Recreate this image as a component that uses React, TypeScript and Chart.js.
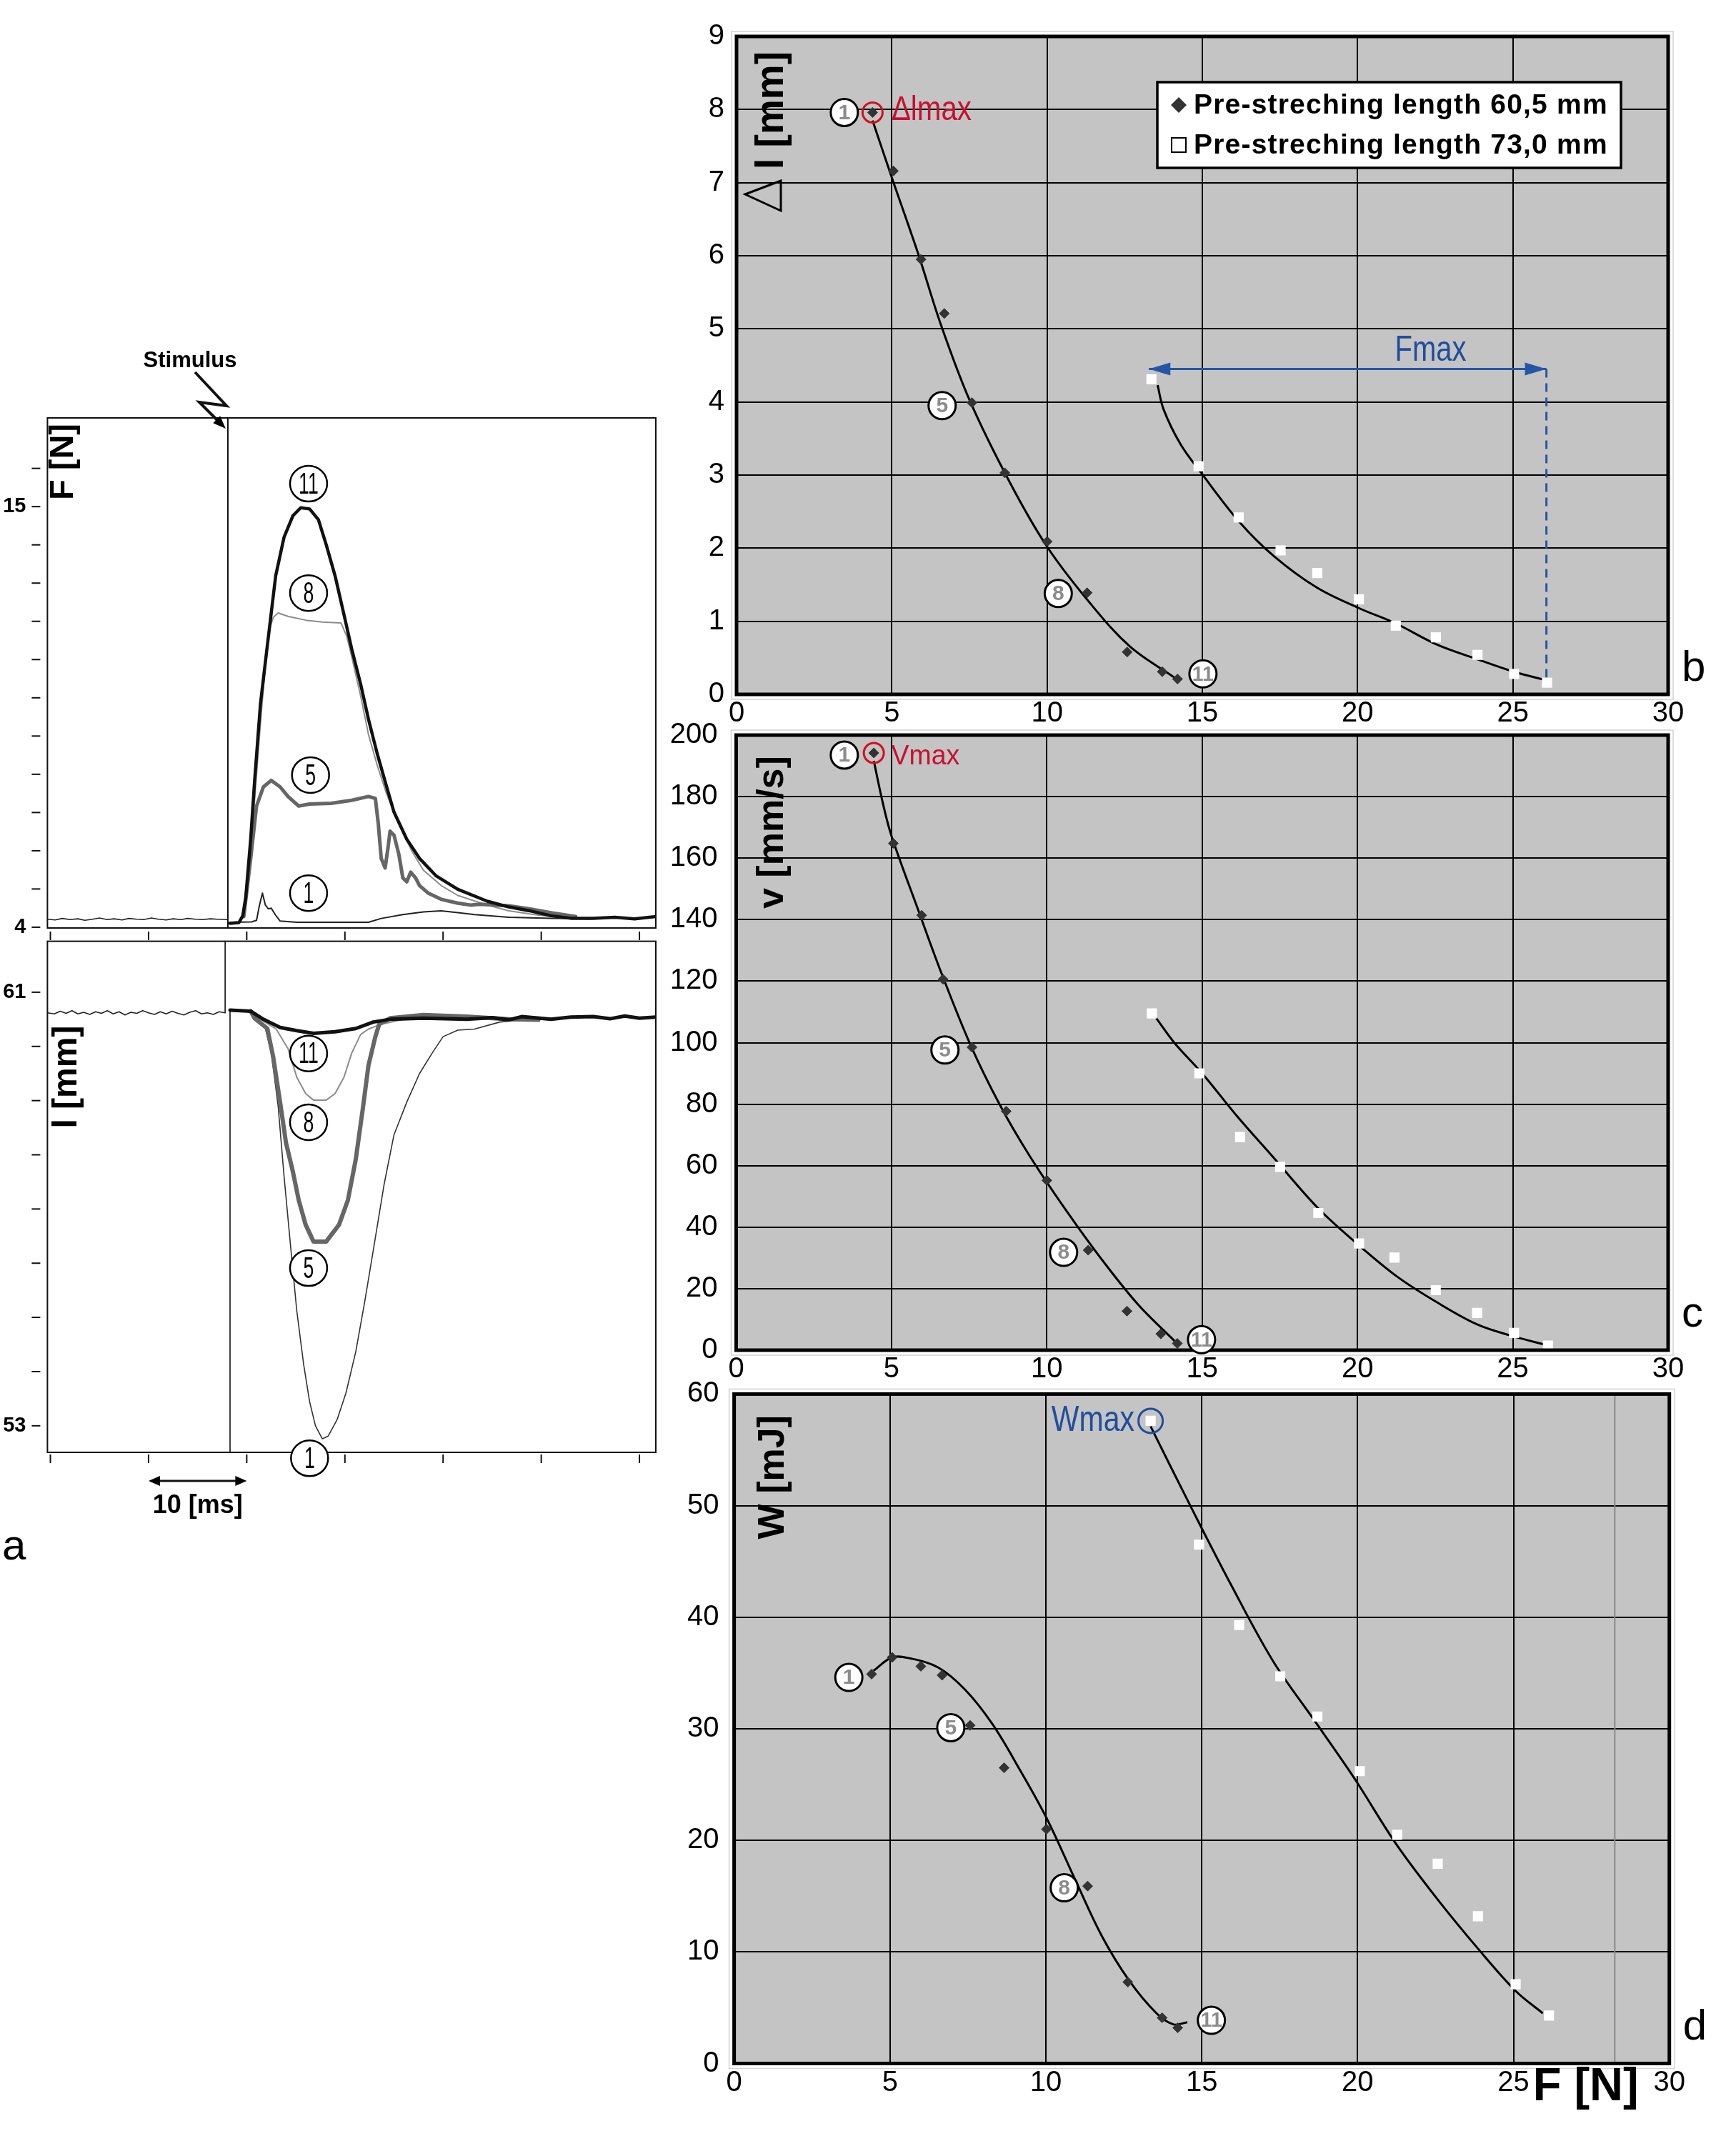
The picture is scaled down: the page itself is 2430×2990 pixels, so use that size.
import React, { useEffect, useRef } from 'react';
import { Chart, registerables } from 'chart.js';

Chart.register(...registerables);

const SANS = '"Liberation Sans", Arial, Helvetica, sans-serif';

// ---------- panel a: force and length traces, time in ms ----------
const timeTicks = [0, 10, 20, 30, 40, 50, 60];
const forceTicks = [4, 5, 6, 7, 8, 9, 10, 11, 12, 13, 14, 15, 16];
const forceTickLabels = [15, 4];
const lengthTicks = [53, 54, 55, 56, 57, 58, 59, 60, 61];
const lengthTickLabels = [61, 53];
const stimulusForceT = 18.08;
const stimulusLenT = [17.8, 18.3];

const forceBaseT = [-0.3, 0.5, 1.2, 2, 2.8, 3.5, 4.3, 5, 5.8, 6.5, 7.3, 8, 8.8, 9.5, 10.3, 11, 11.8, 12.5, 13.3, 14, 14.8, 15.5, 16.3, 17, 18.0];
const forceBaseF = [4.21, 4.19, 4.23, 4.2, 4.22, 4.18, 4.21, 4.24, 4.2, 4.22, 4.19, 4.23, 4.21, 4.2, 4.24, 4.21, 4.19, 4.22, 4.2, 4.23, 4.21, 4.2, 4.22, 4.21, 4.2];

const force11T = [18.3, 19.2, 19.6, 19.9, 20.4, 20.8, 21.4, 22.1, 22.95, 23.8, 24.7, 25.5, 26.4, 27.3, 28.1, 29.0, 29.9, 30.7, 31.6, 32.4, 33.3, 34.2, 35.0, 36.3, 37.6, 39.3, 41.5, 44.5, 46.7, 48.8, 51.0, 53.1, 55.3, 57.5, 59.5, 61.7];
const force11F = [4.1, 4.12, 4.3, 4.78, 6.3, 7.82, 9.85, 11.37, 13.19, 14.2, 14.76, 14.97, 14.94, 14.66, 14.0, 13.19, 12.18, 11.27, 10.36, 9.44, 8.53, 7.72, 7.01, 6.3, 5.8, 5.34, 4.99, 4.68, 4.53, 4.43, 4.3, 4.23, 4.23, 4.26, 4.22, 4.28];

const force8T = [19.6, 20.1, 20.8, 21.4, 21.9, 22.3, 22.7, 23.2, 24.2, 26.0, 27.7, 29.6, 30.2, 30.7, 31.6, 32.4, 33.3, 34.2, 35.5, 36.8, 38.0, 39.8, 41.5, 44.5, 46.7, 49.3, 52, 55];
const force8F = [4.28, 5.29, 7.32, 9.34, 10.86, 11.78, 12.1, 12.22, 12.13, 12.03, 11.98, 11.96, 11.6, 11.07, 10.05, 9.04, 8.23, 7.52, 6.71, 6.0, 5.49, 5.09, 4.83, 4.58, 4.43, 4.33, 4.25, 4.22];

const force5T = [19.7, 20.4, 21.0, 21.7, 22.5, 23.4, 24.2, 25.3, 26.4, 28.6, 30.7, 32.4, 33.1, 33.4, 33.7, 34.1, 34.4, 34.6, 35.0, 35.5, 35.9, 36.3, 36.7, 37.2, 37.6, 38.5, 39.8, 41.5, 42.8, 43.7, 46.7, 48.8, 51.0, 53.5];
const force5F = [4.28, 5.8, 7.17, 7.67, 7.84, 7.67, 7.42, 7.17, 7.22, 7.24, 7.32, 7.42, 7.37, 6.71, 5.8, 5.55, 6.1, 6.51, 6.41, 5.9, 5.29, 5.19, 5.44, 5.29, 5.09, 4.89, 4.73, 4.63, 4.58, 4.6, 4.56, 4.48, 4.38, 4.28];

const force1T = [18.3, 20.5, 21.0, 21.3, 21.6, 21.9, 22.2, 22.5, 22.9, 23.4, 25.1, 32.4, 33.7, 35.9, 38.0, 39.8, 41.5, 43.2, 46.7, 51.0, 55];
const force1F = [4.13, 4.14, 4.18, 4.58, 4.89, 4.58, 4.48, 4.5, 4.33, 4.16, 4.13, 4.13, 4.23, 4.33, 4.4, 4.43, 4.38, 4.33, 4.26, 4.23, 4.22];

const lenBaseT = [-0.3, 0.4, 1, 1.6, 2.2, 2.8, 3.4, 4, 4.6, 5.2, 5.8, 6.4, 7, 7.6, 8.2, 8.8, 9.4, 10, 10.6, 11.2, 11.8, 12.4, 13, 13.6, 14.2, 14.8, 15.4, 16, 16.6, 17.2, 17.8];
const lenBaseL = [60.62, 60.6, 60.65, 60.61, 60.66, 60.6, 60.63, 60.59, 60.64, 60.61, 60.66, 60.6, 60.64, 60.58, 60.63, 60.61, 60.66, 60.62, 60.59, 60.64, 60.6, 60.65, 60.61, 60.58, 60.63, 60.66, 60.6, 60.62, 60.59, 60.64, 60.62];

const len11T = [18.3, 20.4, 21.7, 23.4, 25.1, 26.8, 29.0, 31.1, 32.9, 34.6, 38.0, 42.4, 45, 46.7, 48, 51.0, 53, 55.3, 57, 58.5, 60, 61.7];
const len11L = [60.67, 60.65, 60.5, 60.35, 60.29, 60.24, 60.27, 60.33, 60.45, 60.5, 60.52, 60.5, 60.53, 60.49, 60.55, 60.5, 60.54, 60.55, 60.51, 60.56, 60.52, 60.54];

const len8T = [20.4, 21.2, 23.0, 24.2, 25.1, 26.0, 26.8, 28.1, 29.0, 29.9, 30.7, 31.6, 32.4, 33.7, 36];
const len8L = [60.65, 60.52, 60.32, 59.96, 59.43, 59.13, 59.01, 59.01, 59.13, 59.43, 59.88, 60.22, 60.32, 60.41, 60.5];

const len5T = [20.4, 20.8, 22.1, 22.7, 23.4, 24.0, 24.7, 25.3, 26.0, 26.8, 28.1, 29.4, 30.3, 31.1, 31.8, 32.4, 33.1, 33.5, 34.6, 38.0, 42.4, 46.7, 49.7];
const len5L = [60.65, 60.52, 60.33, 59.8, 58.97, 58.22, 57.69, 57.16, 56.71, 56.4, 56.4, 56.71, 57.16, 57.91, 58.82, 59.65, 60.18, 60.41, 60.52, 60.58, 60.55, 60.5, 60.49];

const len1T = [20.4, 20.8, 21.9, 22.5, 23.2, 23.8, 24.5, 25.1, 25.8, 26.4, 27.0, 27.7, 28.3, 29.2, 30.1, 31.1, 32.0, 32.9, 34.0, 35.0, 36.3, 37.6, 38.9, 40.0, 41.5, 43.2, 45.8, 48.0, 50.1];
const len1L = [60.65, 60.52, 60.33, 59.88, 58.9, 57.61, 56.25, 55.12, 54.13, 53.45, 53.0, 52.76, 52.81, 53.11, 53.6, 54.36, 55.27, 56.25, 57.46, 58.37, 58.97, 59.5, 59.88, 60.18, 60.3, 60.32, 60.45, 60.49, 60.5];

const forceTags = [
  { t: 26.3, v: 15.6, s: '11' },
  { t: 26.3, v: 12.74, s: '8' },
  { t: 26.5, v: 7.98, s: '5' },
  { t: 26.3, v: 4.89, s: '1' },
];
const lengthTags = [
  { t: 26.3, v: 59.87, s: '11' },
  { t: 26.3, v: 58.6, s: '8' },
  { t: 26.3, v: 55.91, s: '5' },
  { t: 26.4, v: 52.4, s: '1' },
];

// ---------- panels b, c, d: against F [N] ----------
const seriesLabels = ['Pre-streching length 60,5 mm', 'Pre-streching length 73,0 mm'];
const pointTagText = ['1', '5', '8', '11'];

const bDiamondX = [4.38, 5.05, 5.94, 6.69, 7.58, 8.64, 10.0, 11.29, 12.58, 13.71, 14.2];
const bDiamondY = [7.96, 7.16, 5.95, 5.21, 3.99, 3.03, 2.09, 1.39, 0.58, 0.31, 0.21];
const bSquareX = [13.36, 14.88, 16.17, 17.52, 18.7, 20.04, 21.23, 22.52, 23.86, 25.04, 26.1];
const bSquareY = [4.31, 3.12, 2.42, 1.97, 1.66, 1.3, 0.94, 0.78, 0.54, 0.28, 0.16];
const bCurve1X = [4.38, 5.0, 5.87, 6.57, 7.51, 8.8, 10.0, 11.38, 12.68, 14.14];
const bCurve1Y = [7.85, 7.07, 6.0, 5.07, 4.02, 2.9, 2.02, 1.25, 0.65, 0.22];
const bCurve2X = [13.56, 13.75, 14.3, 14.98, 16.17, 17.28, 18.69, 20.04, 21.23, 22.56, 23.86, 25.03, 26.1];
const bCurve2Y = [4.23, 3.9, 3.42, 3.02, 2.37, 1.9, 1.46, 1.18, 0.97, 0.68, 0.48, 0.31, 0.19];
const bTagX = [3.47, 6.62, 10.36, 15.02];
const bTagY = [7.96, 3.95, 1.38, 0.28];
const fmaxArrowX = [13.28, 26.08];
const fmaxArrowY = [4.45, 4.45];
const fmaxDropX = [26.08, 26.08];
const fmaxDropY = [4.45, 0.16];

const cDiamondX = [4.43, 5.06, 5.97, 6.66, 7.59, 8.69, 10.0, 11.33, 12.58, 13.67, 14.2];
const cDiamondY = [194.2, 164.8, 141.4, 120.6, 98.5, 77.7, 55.2, 32.5, 12.7, 5.3, 2.2];
const cSquareX = [13.38, 14.91, 16.22, 17.51, 18.74, 20.05, 21.19, 22.52, 23.85, 25.04, 26.13];
const cSquareY = [109.5, 90.0, 69.3, 59.6, 44.6, 34.7, 30.1, 19.5, 12.1, 5.6, 1.5];
const cCurve1X = [4.43, 4.73, 5.0, 5.9, 6.6, 7.55, 8.48, 9.42, 10.59, 11.76, 12.94, 14.11];
const cCurve1Y = [191.6, 177.5, 167.2, 142, 122.8, 99.1, 79.9, 63.6, 45.9, 29.6, 14.8, 3.0];
const cCurve2X = [13.52, 14.11, 15.0, 16.13, 17.3, 18.71, 20.0, 21.28, 22.57, 23.85, 25.02, 26.08];
const cCurve2Y = [108, 99.9, 90, 76, 62.6, 46.4, 34.5, 23.9, 15.5, 8.4, 4.5, 1.7];
const cTagX = [3.48, 6.72, 10.54, 14.98];
const cTagY = [193.5, 97.6, 31.8, 3.4];

const dDiamondX = [4.41, 5.07, 5.99, 6.67, 7.57, 8.66, 10.02, 11.34, 12.63, 13.73, 14.23];
const dDiamondY = [34.9, 36.4, 35.6, 34.8, 30.3, 26.5, 21.0, 15.9, 7.3, 4.1, 3.2];
const dSquareX = [13.36, 14.91, 16.2, 17.52, 18.71, 20.07, 21.27, 22.57, 23.86, 25.07, 26.14];
const dSquareY = [57.6, 46.5, 39.3, 34.7, 31.1, 26.2, 20.5, 17.9, 13.2, 7.1, 4.3];
const dCurve1X = [4.47, 5.07, 5.66, 6.54, 7.41, 8.29, 9.17, 10.04, 10.92, 11.8, 12.68, 13.55, 14.1, 14.54];
const dCurve1Y = [35.2, 36.4, 36.3, 35.5, 33.5, 30.4, 26.3, 21.9, 16.6, 11.4, 7.4, 4.5, 3.5, 3.7];
const dCurve2X = [13.36, 14.65, 15.96, 17.28, 18.6, 19.91, 21.23, 22.54, 23.86, 25.07, 25.94];
const dCurve2Y = [57.1, 49.9, 42.8, 36.1, 30.8, 25.5, 19.7, 14.8, 10.3, 6.5, 4.5];
const dTagX = [3.68, 6.95, 10.59, 15.31];
const dTagY = [34.6, 30.1, 15.75, 3.87];
const dRuleX = [28.25, 28.25];
const dRuleY = [0, 60];

const pts = (xs: number[], ys: number[]) => xs.map((x, i) => ({ x, y: ys[i] }));

const trace = (xs: number[], ys: number[], color: string, width: number) => ({
  data: pts(xs, ys),
  showLine: true,
  borderColor: color,
  borderWidth: width,
  pointRadius: 0,
  tension: 0,
  borderJoinStyle: 'round',
  borderCapStyle: 'round',
});

const curve = (xs: number[], ys: number[]) => ({
  data: pts(xs, ys),
  showLine: true,
  borderColor: '#000',
  borderWidth: 3,
  pointRadius: 0,
  tension: 0.35,
});

const diamonds = (xs: number[], ys: number[]) => ({
  label: seriesLabels[0],
  data: pts(xs, ys),
  pointStyle: 'rectRot',
  pointRadius: 7,
  backgroundColor: '#333',
  borderColor: '#333',
  borderWidth: 1,
});

const squares = (xs: number[], ys: number[]) => ({
  label: seriesLabels[1],
  data: pts(xs, ys),
  pointStyle: 'rect',
  pointRadius: 10,
  backgroundColor: '#fff',
  borderColor: '#fff',
  borderWidth: 0,
});

function seg(ctx: CanvasRenderingContext2D, x1: number, y1: number, x2: number, y2: number) {
  ctx.beginPath();
  ctx.moveTo(x1, y1);
  ctx.lineTo(x2, y2);
  ctx.stroke();
}

function arrowTo(ctx: CanvasRenderingContext2D, fx: number, fy: number, tx: number, ty: number, len: number, half: number) {
  const d = Math.hypot(tx - fx, ty - fy) || 1;
  const ux = (tx - fx) / d, uy = (ty - fy) / d;
  ctx.beginPath();
  ctx.moveTo(tx, ty);
  ctx.lineTo(tx - ux * len - uy * half, ty - uy * len + ux * half);
  ctx.lineTo(tx - ux * len + uy * half, ty - uy * len - ux * half);
  ctx.closePath();
  ctx.fill();
}

function rotText(ctx: CanvasRenderingContext2D, text: string, cx: number, startY: number, font: string) {
  ctx.save();
  ctx.translate(cx, startY);
  ctx.rotate(-Math.PI / 2);
  ctx.font = font;
  ctx.fillStyle = '#000';
  ctx.textAlign = 'left';
  ctx.textBaseline = 'middle';
  ctx.fillText(text, 0, 0);
  ctx.restore();
}

function traceTag(ctx: CanvasRenderingContext2D, x: number, y: number, s: string) {
  ctx.beginPath();
  ctx.ellipse(x, y, 26, 25, 0, 0, Math.PI * 2);
  ctx.fillStyle = '#fff';
  ctx.fill();
  ctx.lineWidth = 2.5;
  ctx.strokeStyle = '#000';
  ctx.stroke();
  ctx.save();
  ctx.translate(x, y + 2);
  ctx.scale(0.62, 1);
  ctx.font = '43px ' + SANS;
  ctx.fillStyle = '#000';
  ctx.textAlign = 'center';
  ctx.textBaseline = 'middle';
  ctx.fillText(s, 0, 0);
  ctx.restore();
}

function pointTag(ctx: CanvasRenderingContext2D, x: number, y: number, s: string) {
  ctx.beginPath();
  ctx.arc(x, y, 19, 0, Math.PI * 2);
  ctx.fillStyle = '#fff';
  ctx.fill();
  ctx.lineWidth = 3;
  ctx.strokeStyle = '#000';
  ctx.stroke();
  ctx.font = 'bold 30px ' + SANS;
  ctx.fillStyle = '#8c8c8c';
  ctx.textAlign = 'center';
  ctx.textBaseline = 'middle';
  ctx.fillText(s, x, y + 1, 30);
}

function markLabel(ctx: CanvasRenderingContext2D, text: string, x: number, y: number, size: number, color: string, sx: number) {
  ctx.save();
  ctx.translate(x, y);
  ctx.scale(sx, 1);
  ctx.font = size + 'px ' + SANS;
  ctx.fillStyle = color;
  ctx.textAlign = 'left';
  ctx.textBaseline = 'alphabetic';
  ctx.fillText(text, 0, 0);
  ctx.restore();
}

function ring(ctx: CanvasRenderingContext2D, x: number, y: number, r: number, color: string) {
  ctx.beginPath();
  ctx.arc(x, y, r, 0, Math.PI * 2);
  ctx.lineWidth = 3;
  ctx.strokeStyle = color;
  ctx.stroke();
}

// ---------- panel a plugins ----------
const forceDecor = {
  id: 'forceDecor',
  afterDraw(chart: any) {
    const { ctx, chartArea: a } = chart;
    const xs = chart.scales.x, ys = chart.scales.y;
    ctx.save();
    ctx.strokeStyle = '#111';
    ctx.lineWidth = 2;
    ctx.strokeRect(a.left, a.top, a.right - a.left, a.bottom - a.top);
    const sx = xs.getPixelForValue(stimulusForceT);
    seg(ctx, sx, a.top, sx, a.bottom);
    forceTicks.forEach((v) => {
      const y = ys.getPixelForValue(v);
      seg(ctx, a.left - 22, y, a.left - 10, y);
    });
    timeTicks.forEach((t) => {
      const x = xs.getPixelForValue(t);
      seg(ctx, x, a.bottom + 5, x, a.bottom + 17);
    });
    ctx.fillStyle = '#000';
    ctx.font = 'bold 29px ' + SANS;
    ctx.textAlign = 'right';
    ctx.textBaseline = 'middle';
    forceTickLabels.forEach((v) => ctx.fillText(String(v), a.left - 30, ys.getPixelForValue(v)));
    rotText(ctx, 'F [N]', a.left + 23, a.top + 115, 'bold 47px ' + SANS);

    ctx.fillStyle = '#000';
    ctx.font = 'bold 31px ' + SANS;
    ctx.textAlign = 'center';
    ctx.textBaseline = 'middle';
    ctx.fillText('Stimulus', sx - 53, a.top - 80);
    ctx.lineWidth = 4;
    ctx.lineJoin = 'miter';
    ctx.beginPath();
    ctx.moveTo(sx - 46, a.top - 64);
    ctx.lineTo(sx - 2, a.top - 17);
    ctx.lineTo(sx - 40, a.top - 22);
    ctx.lineTo(sx - 12, a.top + 6);
    ctx.stroke();
    arrowTo(ctx, sx - 40, a.top - 22, sx - 3, a.top + 15, 18, 7);

    forceTags.forEach((g) => traceTag(ctx, xs.getPixelForValue(g.t), ys.getPixelForValue(g.v), g.s));
    ctx.restore();
  },
};

const lengthDecor = {
  id: 'lengthDecor',
  afterDraw(chart: any) {
    const { ctx, chartArea: a } = chart;
    const xs = chart.scales.x, ys = chart.scales.y;
    ctx.save();
    ctx.strokeStyle = '#111';
    ctx.lineWidth = 2;
    ctx.strokeRect(a.left, a.top, a.right - a.left, a.bottom - a.top);
    const s1 = xs.getPixelForValue(stimulusLenT[0]);
    const s2 = xs.getPixelForValue(stimulusLenT[1]);
    ctx.lineWidth = 1.6;
    seg(ctx, s1, a.top, s1, ys.getPixelForValue(lenBaseL[lenBaseL.length - 1]));
    seg(ctx, s2, ys.getPixelForValue(len11L[0]), s2, a.bottom);
    ctx.lineWidth = 2;
    lengthTicks.forEach((v) => {
      const y = ys.getPixelForValue(v);
      seg(ctx, a.left - 22, y, a.left - 10, y);
    });
    timeTicks.forEach((t) => {
      const x = xs.getPixelForValue(t);
      seg(ctx, x, a.bottom + 3, x, a.bottom + 15);
    });
    ctx.fillStyle = '#000';
    ctx.font = 'bold 29px ' + SANS;
    ctx.textAlign = 'right';
    ctx.textBaseline = 'middle';
    lengthTickLabels.forEach((v) => ctx.fillText(String(v), a.left - 30, ys.getPixelForValue(v)));
    rotText(ctx, 'l [mm]', a.left + 27, a.top + 262, 'bold 48px ' + SANS);

    // 10 ms scale bar
    const x10 = xs.getPixelForValue(timeTicks[1]);
    const x20 = xs.getPixelForValue(timeTicks[2]);
    const yb = a.bottom + 40;
    ctx.lineWidth = 3;
    seg(ctx, x10 + 10, yb, x20 - 10, yb);
    ctx.fillStyle = '#000';
    arrowTo(ctx, x20 - 20, yb, x10, yb, 16, 7);
    arrowTo(ctx, x10 + 20, yb, x20, yb, 16, 7);
    ctx.font = 'bold 36px ' + SANS;
    ctx.textAlign = 'center';
    ctx.textBaseline = 'middle';
    ctx.fillText('10 [ms]', (x10 + x20) / 2, a.bottom + 75);

    ctx.font = '60px ' + SANS;
    ctx.textAlign = 'left';
    ctx.textBaseline = 'alphabetic';
    ctx.fillText('a', 3, a.bottom + 150);

    lengthTags.forEach((g) => traceTag(ctx, xs.getPixelForValue(g.t), ys.getPixelForValue(g.v), g.s));
    ctx.restore();
  },
};

const forceConfig = () => ({
  type: 'scatter',
  data: {
    datasets: [
      trace(force11T, force11F, '#111', 4.5),
      trace(force5T, force5F, '#666', 5),
      trace(force8T, force8F, '#8c8c8c', 2),
      trace(force1T, force1F, '#222', 2),
      trace(forceBaseT, forceBaseF, '#222', 1.6),
    ],
  },
  options: {
    animation: false,
    responsive: true,
    maintainAspectRatio: false,
    layout: { padding: { left: 66.4, top: 115, right: 12, bottom: 21 } },
    plugins: { legend: { display: false }, tooltip: { enabled: false } },
    scales: {
      x: { type: 'linear', display: false, min: -0.3, max: 61.67 },
      y: { type: 'linear', display: false, min: 3.98, max: 17.32 },
    },
  },
  plugins: [forceDecor],
});

const lengthConfig = () => ({
  type: 'scatter',
  data: {
    datasets: [
      trace(len11T, len11L, '#111', 5),
      trace(len5T, len5L, '#666', 6),
      trace(len8T, len8L, '#8c8c8c', 2),
      trace(len1T, len1L, '#333', 1.6),
      trace(lenBaseT, lenBaseL, '#222', 1.6),
    ],
  },
  options: {
    animation: false,
    responsive: true,
    maintainAspectRatio: false,
    layout: { padding: { left: 66.4, top: 17.6, right: 12, bottom: 167 } },
    plugins: { legend: { display: false }, tooltip: { enabled: false } },
    scales: {
      x: { type: 'linear', display: false, min: -0.3, max: 61.67 },
      y: { type: 'linear', display: false, min: 52.51, max: 61.94 },
    },
  },
  plugins: [lengthDecor],
});

// ---------- panels b, c, d ----------
const grayPlot = {
  id: 'grayPlot',
  beforeDraw(chart: any) {
    const { ctx, chartArea: a } = chart;
    ctx.save();
    ctx.fillStyle = '#c4c4c4';
    ctx.fillRect(a.left, a.top, a.right - a.left, a.bottom - a.top);
    ctx.restore();
  },
  afterDraw(chart: any) {
    const { ctx, chartArea: a } = chart;
    ctx.save();
    ctx.strokeStyle = '#d2d2d2';
    ctx.lineWidth = 1.5;
    ctx.strokeRect(a.left - 7, a.top - 7, a.right - a.left + 14, a.bottom - a.top + 14);
    ctx.strokeStyle = '#000';
    ctx.lineWidth = 5;
    ctx.strokeRect(a.left, a.top, a.right - a.left, a.bottom - a.top);
    ctx.restore();
  },
};

function panelLetter(ctx: CanvasRenderingContext2D, a: any, s: string, dy: number) {
  ctx.font = '60px ' + SANS;
  ctx.fillStyle = '#000';
  ctx.textAlign = 'left';
  ctx.textBaseline = 'alphabetic';
  ctx.fillText(s, a.right + 19, a.bottom - dy);
}

function tags(ctx: CanvasRenderingContext2D, chart: any, xs: number[], ys: number[]) {
  xs.forEach((x, i) => pointTag(ctx, chart.scales.x.getPixelForValue(x), chart.scales.y.getPixelForValue(ys[i]), pointTagText[i]));
}

const bDecor = {
  id: 'bDecor',
  afterDraw(chart: any) {
    const { ctx, chartArea: a } = chart;
    const X = (v: number) => chart.scales.x.getPixelForValue(v);
    const Y = (v: number) => chart.scales.y.getPixelForValue(v);
    ctx.save();
    // hollow delta, then the rest of the axis title
    ctx.strokeStyle = '#000';
    ctx.lineWidth = 3;
    ctx.beginPath();
    ctx.moveTo(a.left + 12, a.top + 221);
    ctx.lineTo(a.left + 62, a.top + 202);
    ctx.lineTo(a.left + 62, a.top + 244);
    ctx.closePath();
    ctx.stroke();
    rotText(ctx, 'l [mm]', a.left + 50, a.top + 186, 'bold 55px ' + SANS);
    tags(ctx, chart, bTagX, bTagY);
    ring(ctx, X(bDiamondX[0]), Y(bDiamondY[0]), 14, '#d0101e');
    markLabel(ctx, 'Δlmax', X(4.99), Y(7.86), 48, '#c8102e', 0.84);

    ctx.fillStyle = '#2456a6';
    arrowTo(ctx, X(fmaxArrowX[1]), Y(fmaxArrowY[0]), X(fmaxArrowX[0]), Y(fmaxArrowY[0]), 30, 9);
    arrowTo(ctx, X(fmaxArrowX[0]), Y(fmaxArrowY[0]), X(fmaxArrowX[1]), Y(fmaxArrowY[1]), 30, 9);
    markLabel(ctx, 'Fmax', X(21.2), Y(4.56), 50, '#1f4e9c', 0.8);

    // legend
    const lx = a.left + 589, ly = a.top + 64, lw = 649, lh = 120;
    ctx.fillStyle = '#fff';
    ctx.fillRect(lx, ly, lw, lh);
    ctx.strokeStyle = '#000';
    ctx.lineWidth = 3.5;
    ctx.strokeRect(lx, ly, lw, lh);
    const r1 = ly + 32, r2 = ly + 88;
    ctx.fillStyle = '#333';
    ctx.beginPath();
    ctx.moveTo(lx + 30, r1 - 11);
    ctx.lineTo(lx + 41, r1);
    ctx.lineTo(lx + 30, r1 + 11);
    ctx.lineTo(lx + 19, r1);
    ctx.closePath();
    ctx.fill();
    ctx.fillStyle = '#fff';
    ctx.fillRect(lx + 20, r2 - 10, 20, 20);
    ctx.lineWidth = 2;
    ctx.strokeRect(lx + 20, r2 - 10, 20, 20);
    ctx.fillStyle = '#000';
    ctx.font = 'bold 39px ' + SANS;
    ctx.textAlign = 'left';
    ctx.textBaseline = 'middle';
    (ctx as any).letterSpacing = '1.2px';
    ctx.fillText(chart.data.datasets[0].label, lx + 51, r1 + 1);
    ctx.fillText(chart.data.datasets[1].label, lx + 51, r2 + 1);
    (ctx as any).letterSpacing = '0px';

    panelLetter(ctx, a, 'b', 19);
    ctx.restore();
  },
};

const cDecor = {
  id: 'cDecor',
  afterDraw(chart: any) {
    const { ctx, chartArea: a } = chart;
    const X = (v: number) => chart.scales.x.getPixelForValue(v);
    const Y = (v: number) => chart.scales.y.getPixelForValue(v);
    ctx.save();
    rotText(ctx, 'v [mm/s]', a.left + 51, a.top + 243, 'bold 52px ' + SANS);
    tags(ctx, chart, cTagX, cTagY);
    ring(ctx, X(cDiamondX[0]), Y(cDiamondY[0]), 14, '#d0101e');
    markLabel(ctx, 'Vmax', X(4.99), Y(190.5), 39, '#c8102e', 0.96);
    panelLetter(ctx, a, 'c', 33);
    ctx.restore();
  },
};

const dDecor = {
  id: 'dDecor',
  afterDraw(chart: any) {
    const { ctx, chartArea: a } = chart;
    const X = (v: number) => chart.scales.x.getPixelForValue(v);
    const Y = (v: number) => chart.scales.y.getPixelForValue(v);
    ctx.save();
    rotText(ctx, 'W [mJ]', a.left + 55, a.top + 203, 'bold 52px ' + SANS);
    tags(ctx, chart, dTagX, dTagY);
    ring(ctx, X(dSquareX[0]), Y(dSquareY[0]), 17, '#1f4e9c');
    markLabel(ctx, 'Wmax', X(10.18), Y(56.7), 50, '#1f4e9c', 0.82);
    panelLetter(ctx, a, 'd', 34);
    ctx.font = 'bold 65px ' + SANS;
    ctx.fillStyle = '#000';
    ctx.textAlign = 'left';
    ctx.textBaseline = 'middle';
    ctx.fillText('F [N]', a.right - 191, a.bottom + 34);
    ctx.restore();
  },
};

const tickFont = { family: SANS, size: 40 };

function scatterConfig(sets: any[], ymax: number, ystep: number, yWidth: number, yPad: number, xHeight: number, padding: any, plugin: any) {
  return {
    type: 'scatter',
    data: { datasets: sets },
    options: {
      animation: false,
      responsive: true,
      maintainAspectRatio: false,
      layout: { padding },
      plugins: { legend: { display: false }, tooltip: { enabled: false } },
      scales: {
        x: {
          type: 'linear',
          min: 0,
          max: 30,
          ticks: { stepSize: 5, color: '#000', font: tickFont, padding: 3, maxRotation: 0 },
          grid: { color: '#000', lineWidth: 2, drawTicks: false },
          border: { display: false },
          afterFit: (s: any) => { s.height = xHeight; },
        },
        y: {
          type: 'linear',
          min: 0,
          max: ymax,
          ticks: { stepSize: ystep, color: '#000', font: tickFont, padding: yPad },
          grid: { color: '#000', lineWidth: 2, drawTicks: false },
          border: { display: false },
          afterFit: (s: any) => { s.width = yWidth; },
        },
      },
    },
    plugins: [grayPlot, plugin],
  };
}

const bConfig = () =>
  scatterConfig(
    [
      diamonds(bDiamondX, bDiamondY),
      squares(bSquareX, bSquareY),
      curve(bCurve1X, bCurve1Y),
      curve(bCurve2X, bCurve2Y),
      { data: pts(fmaxArrowX, fmaxArrowY), showLine: true, borderColor: '#2456a6', borderWidth: 3, pointRadius: 0 },
      { data: pts(fmaxDropX, fmaxDropY), showLine: true, borderColor: '#2456a6', borderWidth: 3, borderDash: [12, 8], pointRadius: 0 },
    ],
    9, 1, 101, 17, 68, { left: 0, top: 51, right: 95, bottom: 0 }, bDecor,
  );

const cConfig = () =>
  scatterConfig(
    [
      diamonds(cDiamondX, cDiamondY),
      squares(cSquareX, cSquareY),
      curve(cCurve1X, cCurve1Y),
      curve(cCurve2X, cCurve2Y),
    ],
    200, 20, 100.5, 26, 60, { left: 0, top: 54, right: 95, bottom: 0 }, cDecor,
  );

const dConfig = () =>
  scatterConfig(
    [
      diamonds(dDiamondX, dDiamondY),
      squares(dSquareX, dSquareY),
      curve(dCurve1X, dCurve1Y),
      curve(dCurve2X, dCurve2Y),
      { data: pts(dRuleX, dRuleY), showLine: true, borderColor: '#8a8a8a', borderWidth: 2, pointRadius: 0 },
    ],
    60, 10, 97.6, 21, 101.5, { left: 0, top: 56.4, right: 93.3, bottom: 0 }, dDecor,
  );

type Box = { left: number; top: number; width: number; height: number };

const ChartCanvas: React.FC<{ box: Box; make: () => any }> = ({ box, make }) => {
  const ref = useRef<HTMLCanvasElement>(null);

  useEffect(() => {
    if (!ref.current) return;
    const chart = new Chart(ref.current, make());
    return () => {
      chart.destroy();
    };
  }, [make]);

  return (
    <div style={{ position: 'absolute', left: box.left, top: box.top, width: box.width, height: box.height }}>
      <canvas ref={ref}></canvas>
    </div>
  );
};

export default function App() {
  return (
    <div style={{ position: 'absolute', left: 0, top: 0, width: 2430, height: 2990, background: '#fff', overflow: 'hidden' }}>
      <ChartCanvas box={{ left: 0, top: 470, width: 930, height: 850 }} make={forceConfig} />
      <ChartCanvas box={{ left: 0, top: 1300, width: 930, height: 900 }} make={lengthConfig} />
      <ChartCanvas box={{ left: 930, top: 0, width: 1500, height: 1040 }} make={bConfig} />
      <ChartCanvas box={{ left: 930, top: 975, width: 1500, height: 975 }} make={cConfig} />
      <ChartCanvas box={{ left: 930, top: 1895, width: 1500, height: 1095 }} make={dConfig} />
    </div>
  );
}
